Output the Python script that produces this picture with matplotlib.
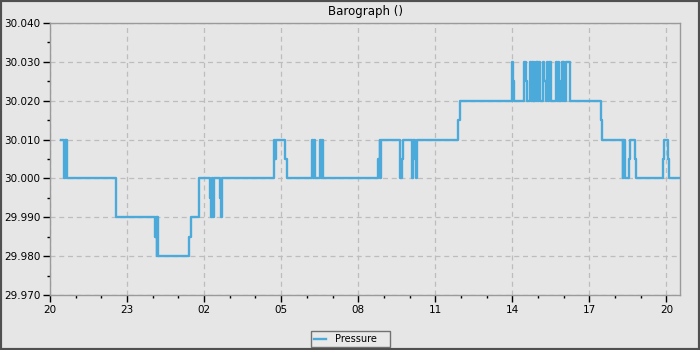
import matplotlib
matplotlib.use("Agg")
import matplotlib.pyplot as plt
from matplotlib.patches import Rectangle
from matplotlib.ticker import MultipleLocator, FuncFormatter

# hours since 20:00 and barometric pressure (inHg), step data
hours = [0.44, 0.56, 0.59, 0.62, 0.64, 0.66, 0.68, 2.57, 4.10, 4.13, 4.15,
         4.18, 4.20, 5.43, 5.49, 5.82, 6.23, 6.26, 6.30, 6.33, 6.37, 6.60,
         6.64, 6.68, 8.74, 8.78, 8.80, 9.15, 9.21, 10.21, 10.25, 10.27,
         10.31, 10.52, 10.56, 10.58, 10.62, 12.79, 12.83, 12.86, 12.90,
         13.64, 13.71, 13.75, 14.10, 14.14, 14.20, 14.24, 14.28,
         15.87, 15.95, 17.99, 18.04, 18.07, 18.47, 18.53, 18.58, 18.70,
         18.74, 18.76, 18.80, 18.82, 18.84, 18.86, 18.90, 18.92, 18.95,
         18.98, 19.00, 19.03, 19.06, 19.19, 19.25, 19.30, 19.36, 19.40,
         19.43, 19.50, 19.71, 19.76, 19.78, 19.82, 19.88, 19.92, 19.96,
         19.98, 20.03, 20.10, 20.26, 21.47, 21.50, 22.30, 22.33, 22.37,
         22.53, 22.60, 22.76, 22.82, 23.87, 23.92, 24.06, 24.09, 24.49]
pressure = [30.010, 30.000, 30.010, 30.000, 30.010, 30.005, 30.000, 29.990,
            29.985, 29.990, 29.980, 29.990, 29.980, 29.985, 29.990, 30.000,
            29.995, 29.990, 30.000, 29.990, 30.000, 29.995, 29.990, 30.000,
            30.010, 30.005, 30.010, 30.005, 30.000, 30.010, 30.000, 30.010,
            30.000, 30.010, 30.000, 30.010, 30.000, 30.005, 30.010, 30.000,
            30.010, 30.000, 30.005, 30.010, 30.000, 30.010, 30.005, 30.000,
            30.010, 30.015, 30.020, 30.030, 30.025, 30.020, 30.030, 30.025,
            30.020, 30.030, 30.020, 30.030, 30.025, 30.020, 30.030, 30.020,
            30.025, 30.030, 30.020, 30.030, 30.020, 30.030, 30.020, 30.030,
            30.025, 30.020, 30.030, 30.020, 30.030, 30.020, 30.030, 30.020,
            30.030, 30.020, 30.025, 30.030, 30.020, 30.030, 30.020, 30.030,
            30.020, 30.015, 30.010, 30.000, 30.010, 30.000, 30.005, 30.010,
            30.005, 30.000, 30.005, 30.010, 30.005, 30.000, 30.000]

title = "Barograph ()"
series_name = "Pressure"
start_hour = 20

bg = "#e6e6e6"
line_color = "#4caadb"

plt.rcParams['font.family'] = ['DejaVu Sans']
fig = plt.figure(figsize=(7, 3.5), dpi=100, facecolor=bg)
ax = fig.add_axes([50/700, 1-295/350, 630/700, 272/350])
ax.set_facecolor(bg)

ax.step(hours, pressure, where='post', color=line_color, lw=1.7, label=series_name)

ax.set_xlim(0, 24.53)
ax.set_ylim(29.970, 30.040)
ax.xaxis.set_major_locator(MultipleLocator(3))
ax.xaxis.set_minor_locator(MultipleLocator(1))
ax.yaxis.set_major_locator(MultipleLocator(0.01))
ax.yaxis.set_minor_locator(MultipleLocator(0.005))
ax.xaxis.set_major_formatter(FuncFormatter(lambda v, p: "%02d" % ((start_hour + int(round(v))) % 24)))
ax.yaxis.set_major_formatter(FuncFormatter(lambda v, p: "%.3f" % v))

ax.grid(True, which='major', color='#bdbdbd', linestyle=(0, (4, 3)), lw=0.9)
for s in ax.spines.values():
    s.set_color('#9a9a9a')
    s.set_linewidth(1.0)
ax.tick_params(which='major', length=5, width=1, color='black', labelsize=7.5, pad=2)
ax.tick_params(which='minor', length=2.5, width=1, color='black')

ax.set_title(title, fontsize=8.5, pad=6)

leg = fig.legend(loc='lower left', bbox_to_anchor=(311/700, 3/350, 79/700, 17/350),
                 mode='expand', ncol=1, fontsize=7, frameon=True, fancybox=False,
                 handlelength=1.2, borderpad=0.3, handletextpad=1.0, borderaxespad=0.0)
leg.get_frame().set_edgecolor('#555555')
leg.get_frame().set_facecolor('#ebebeb')
leg.get_frame().set_linewidth(1.0)

fig.patches.append(Rectangle((0, 0), 1, 1, transform=fig.transFigure, fill=False,
                             edgecolor='#505050', lw=3))

fig.savefig("out.png", dpi=100, facecolor=bg)
